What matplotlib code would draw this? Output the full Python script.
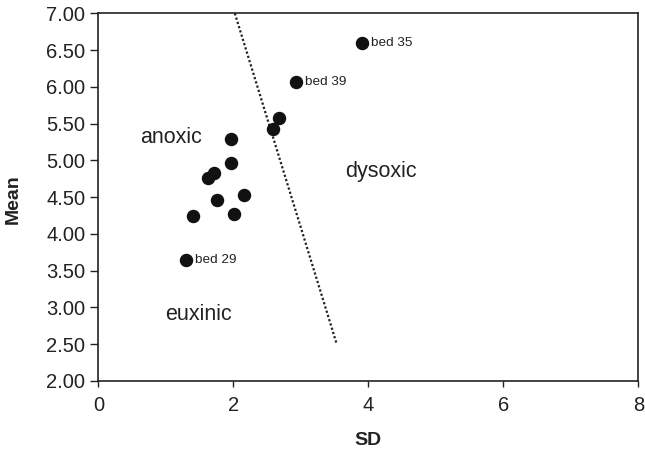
import numpy as np
import matplotlib.pyplot as plt

plt.rcParams['font.family'] = ['Liberation Sans', 'DejaVu Sans']

# Bed statistics: standard deviation vs mean
sd = [3.91, 2.93, 2.68, 2.58, 1.96, 1.96, 1.71, 1.62, 2.16, 1.75, 1.40, 2.01, 1.30]
mean = [6.59, 6.06, 5.57, 5.42, 5.29, 4.97, 4.83, 4.76, 4.53, 4.46, 4.25, 4.27, 3.64]
bed_labels = {0: 'bed 35', 1: 'bed 39', 12: 'bed 29'}

# boundary between anoxic and dysoxic fields
boundary_sd = [2.02, 3.53]
boundary_mean = [7.0, 2.5]

x_ticks = [0, 2, 4, 6, 8]
y_ticks = [2.0, 2.5, 3.0, 3.5, 4.0, 4.5, 5.0, 5.5, 6.0, 6.5, 7.0]

fig = plt.figure(figsize=(6.45, 4.54), dpi=100)
ax = fig.add_axes([0.1527, 0.161, 0.8372, 0.8096])

ax.plot(boundary_sd, boundary_mean, color='#222222', linestyle=(0, (1, 1)), linewidth=1.6)
ax.scatter(sd, mean, s=75, color='#111111', zorder=3)

for i, lab in bed_labels.items():
    ax.annotate(lab, (sd[i], mean[i]), xytext=(6.5, 0), textcoords='offset points',
                ha='left', va='center', fontsize=9.7, color='#222222')

ax.text(0.61, 5.31, 'anoxic', fontsize=15.5, ha='left', va='center', color='#222222')
ax.text(3.65, 4.85, 'dysoxic', fontsize=15.5, ha='left', va='center', color='#222222')
ax.text(0.99, 2.90, 'euxinic', fontsize=15.5, ha='left', va='center', color='#222222')

ax.set_xlim(0, 8)
ax.set_ylim(2, 7)
ax.set_xticks(x_ticks)
ax.set_yticks(y_ticks)
ax.set_yticklabels(['%.2f' % v for v in y_ticks])
ax.tick_params(direction='out', width=1, labelsize=14.5, colors='#222222')
ax.tick_params(axis='x', length=4, pad=7)
ax.tick_params(axis='y', length=5.5, pad=4)
for sp in ax.spines.values():
    sp.set_linewidth(1.2)
    sp.set_color('#222222')

fig.text(0.571, 0.029, 'SD', fontsize=14, fontweight='bold', ha='center', va='center', color='#222222')
fig.text(0.021, 0.562, 'Mean', fontsize=14, fontweight='bold', rotation=90, ha='center', va='center', color='#222222')

fig.savefig('out.png', dpi=100)
